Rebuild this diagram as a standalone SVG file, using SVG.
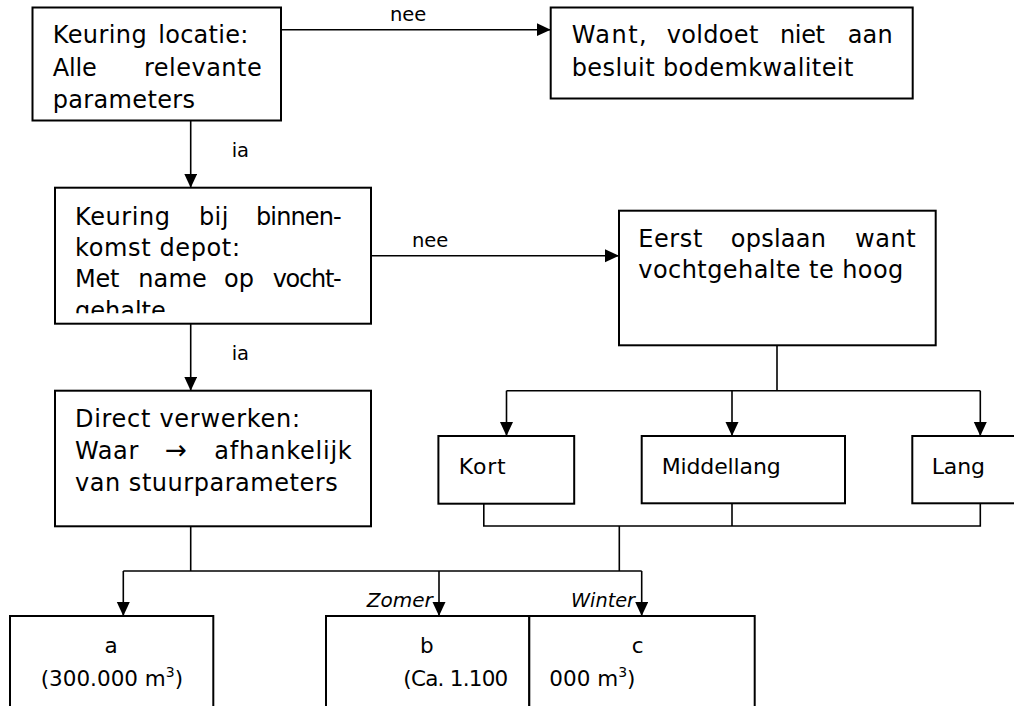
<svg xmlns="http://www.w3.org/2000/svg" width="1014" height="706" viewBox="0 0 1014 706">
<style>
.box{fill:#fff;stroke:#000;stroke-width:2}
.ln{fill:none;stroke:#000;stroke-width:1.6}
.t{font-family:"DejaVu Sans","Liberation Sans",sans-serif;font-size:24px;fill:#000}
.m{font-family:"DejaVu Sans","Liberation Sans",sans-serif;font-size:22px;fill:#000}
.s{font-family:"DejaVu Sans","Liberation Sans",sans-serif;font-size:21.5px;fill:#000}
.lb{font-family:"DejaVu Sans","Liberation Sans",sans-serif;font-size:19.5px;fill:#000}
.it{font-style:italic}
</style>
<defs>
<marker id="ah" markerUnits="userSpaceOnUse" markerWidth="15" markerHeight="14" refX="14" refY="6.5" orient="auto">
<path d="M0,0 L14,6.5 L0,13 Z" fill="#000"/>
</marker>
<clipPath id="clip2"><rect x="56" y="188" width="314" height="125.3"/></clipPath>
</defs>
<rect width="1014" height="706" fill="#fff"/>

<g id="connectors">
<line class="ln" x1="281" y1="29.7" x2="550.7" y2="29.7" marker-end="url(#ah)"/>
<text class="lb" x="390" y="21">nee</text>
<line class="ln" x1="190.7" y1="120.5" x2="190.7" y2="187.7" marker-end="url(#ah)"/>
<text class="lb" x="231.7" y="156.7">ia</text>
<line class="ln" x1="371" y1="255.7" x2="619" y2="255.7" marker-end="url(#ah)"/>
<text class="lb" x="412" y="246.7">nee</text>
<line class="ln" x1="190.7" y1="324" x2="190.7" y2="390.7" marker-end="url(#ah)"/>
<text class="lb" x="231.7" y="360">ia</text>
<line class="ln" x1="777" y1="345.3" x2="777" y2="390.7"/>
<line class="ln" x1="506.5" y1="390.7" x2="980.3" y2="390.7"/>
<line class="ln" x1="506.5" y1="390.7" x2="506.5" y2="436" marker-end="url(#ah)"/>
<line class="ln" x1="732" y1="390.7" x2="732" y2="436" marker-end="url(#ah)"/>
<line class="ln" x1="980.3" y1="390.7" x2="980.3" y2="436" marker-end="url(#ah)"/>
<polyline class="ln" points="483.8,503.7 483.8,526 980.3,526 980.3,503.3"/>
<line class="ln" x1="732" y1="503.3" x2="732" y2="526"/>
<line class="ln" x1="619.3" y1="526" x2="619.3" y2="571"/>
<line class="ln" x1="190.7" y1="526.3" x2="190.7" y2="571"/>
<line class="ln" x1="123.3" y1="571" x2="641.7" y2="571"/>
<line class="ln" x1="123.3" y1="571" x2="123.3" y2="616" marker-end="url(#ah)"/>
<line class="ln" x1="439" y1="571" x2="439" y2="616" marker-end="url(#ah)"/>
<line class="ln" x1="641.7" y1="571" x2="641.7" y2="616" marker-end="url(#ah)"/>
<text class="lb it" x="366.7" y="607.3" textLength="66" lengthAdjust="spacingAndGlyphs">Zomer</text>
<text class="lb it" x="571" y="607.3" textLength="64" lengthAdjust="spacingAndGlyphs">Winter</text>
</g>

<g id="node-keuring-locatie">
<rect class="box" x="32.5" y="7.5" width="248.5" height="113"/>
<text class="t" y="43.3"><tspan x="52.7" textLength="94">Keuring</tspan> <tspan x="158.3" textLength="90">locatie:</tspan></text>
<text class="t" y="76"><tspan x="52.7" textLength="44">Alle</tspan> <tspan x="144" textLength="117.7">relevante</tspan></text>
<text class="t" x="52.7" y="107.7" textLength="142.3">parameters</text>
</g>

<g id="node-want">
<rect class="box" x="550.7" y="7.5" width="362" height="91"/>
<text class="t" y="43.3"><tspan x="571.7" textLength="75">Want,</tspan> <tspan x="666.7" textLength="91.6">voldoet</tspan> <tspan x="780" textLength="45">niet</tspan> <tspan x="847.7" textLength="45">aan</tspan></text>
<text class="t" x="571.7" y="76" textLength="281.6">besluit bodemkwaliteit</text>
</g>

<g id="node-keuring-depot">
<rect class="box" x="55" y="187.7" width="316" height="136"/>
<text class="t" y="225"><tspan x="75" textLength="95">Keuring</tspan> <tspan x="199" textLength="29.3">bij</tspan> <tspan x="256" textLength="85.7">binnen-</tspan></text>
<text class="t" x="75" y="256" textLength="165">komst depot:</text>
<text class="t" y="287.3"><tspan x="75" textLength="44.3">Met</tspan> <tspan x="138.3" textLength="68.4">name</tspan> <tspan x="224" textLength="30">op</tspan> <tspan x="272.7" textLength="69">vocht-</tspan></text>
<text class="t" x="75" y="318.5" clip-path="url(#clip2)">gehalte</text>
</g>

<g id="node-eerst-opslaan">
<rect class="box" x="619" y="210.7" width="316.7" height="134.6"/>
<text class="t" y="246.7"><tspan x="638.3" textLength="64">Eerst</tspan> <tspan x="730.7" textLength="95.3">opslaan</tspan> <tspan x="855" textLength="60.7">want</tspan></text>
<text class="t" x="638.3" y="278.3" textLength="265">vochtgehalte te hoog</text>
</g>

<g id="node-direct">
<rect class="box" x="55" y="390.7" width="316" height="135.6"/>
<text class="t" x="75" y="427.3" textLength="225">Direct verwerken:</text>
<text class="t" y="459.3"><tspan x="75" textLength="63.3">Waar</tspan> <tspan x="165" font-size="27" textLength="22" lengthAdjust="spacingAndGlyphs">→</tspan> <tspan x="214.3" textLength="137.4">afhankelijk</tspan></text>
<text class="t" x="75" y="490.7" textLength="262.7">van stuurparameters</text>
</g>

<g id="node-kort">
<rect class="box" x="438.4" y="436" width="135.8" height="67.7"/>
<text class="m" x="458.7" y="474" textLength="47">Kort</text>
</g>

<g id="node-middellang">
<rect class="box" x="641.7" y="436" width="203.3" height="67.3"/>
<text class="m" x="661.7" y="474" textLength="119">Middellang</text>
</g>

<g id="node-lang">
<rect class="box" x="912.3" y="436" width="120" height="67.3"/>
<text class="m" x="931.7" y="473.7" textLength="53.3">Lang</text>
</g>

<g id="node-a">
<rect class="box" x="10" y="616" width="203.3" height="110"/>
<text class="s" x="111.2" y="653.3" text-anchor="middle">a</text>
<text class="s" x="40.7" y="686">(300.000 m<tspan font-size="14" dy="-9">3</tspan><tspan dy="9">)</tspan></text>
</g>

<g id="node-b">
<rect class="box" x="326" y="616" width="203.3" height="110"/>
<text class="s" x="420" y="653.3">b</text>
<text class="s" x="403.3" y="685.7" textLength="105">(Ca. 1.100</text>
</g>

<g id="node-c">
<rect class="box" x="529.3" y="616" width="225.4" height="110"/>
<text class="s" x="631.7" y="653.3">c</text>
<text class="s" x="549.3" y="685.7">000 m<tspan font-size="14" dy="-9">3</tspan><tspan dy="9">)</tspan></text>
</g>
</svg>
